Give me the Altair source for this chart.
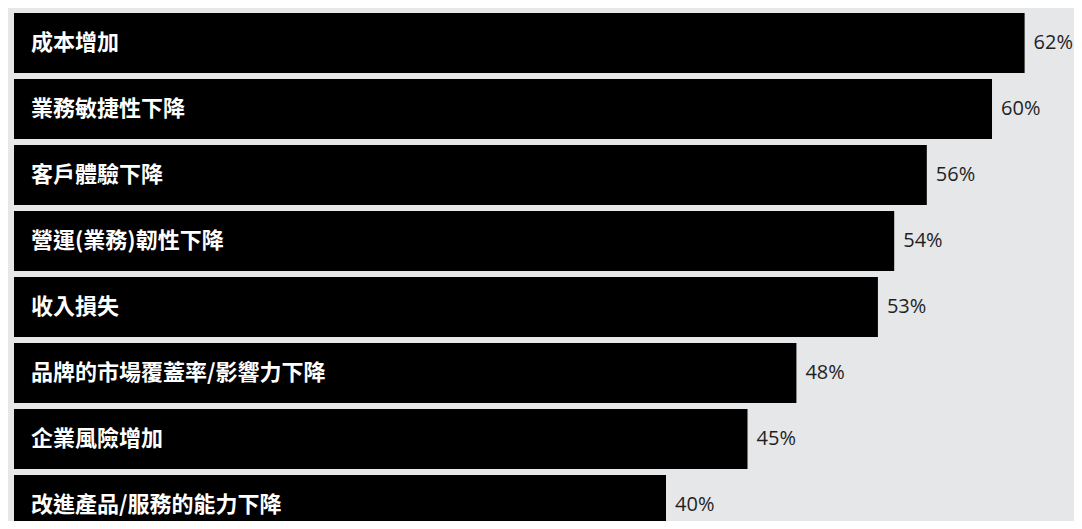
import altair as alt
import pandas as pd

categories = ["成本增加", "業務敏捷性下降", "客戶體驗下降", "營運(業務)韌性下降", "收入損失",
              "品牌的市場覆蓋率/影響力下降", "企業風險增加", "改進產品/服務的能力下降"]
values = [62, 60, 56, 54, 53, 48, 45, 40]
value_labels = ["62%", "60%", "56%", "54%", "53%", "48%", "45%", "40%"]

df = pd.DataFrame({"cat": categories, "val": values, "lab": value_labels})

BG = "#e6e7e9"

y = alt.Y("cat:N", sort=categories, axis=None,
          scale=alt.Scale(paddingInner=0.09, paddingOuter=0.045, range=[0, 528]))
x = alt.X("val:Q", axis=None, scale=alt.Scale(domain=[0, 65.03], nice=False, zero=True))

bars = alt.Chart(df).mark_bar(color="#000000", cornerRadius=0).encode(x=x, y=y)

names = alt.Chart(df).mark_text(
    align="left", baseline="middle", color="#ffffff", fontSize=22,
    fontWeight="bold", font="Noto Sans CJK TC"
).encode(x=alt.value(17), y=y, text="cat:N")

pcts = alt.Chart(df).mark_text(
    align="left", baseline="middle", dx=9, color="#1f1f1f", fontSize=20,
    font="Open Sans"
).encode(x=x, y=y, text="lab:N")

chart = alt.layer(bars, names, pcts).properties(
    width=1060, height=511,
    padding={"left": 6, "top": 2, "right": 0, "bottom": 0},
    autosize=alt.AutoSizeParams(type="none"),
    background=BG,
).configure_view(stroke=None)

chart.save("out.html", embed_options={"renderer": "svg", "actions": False})
